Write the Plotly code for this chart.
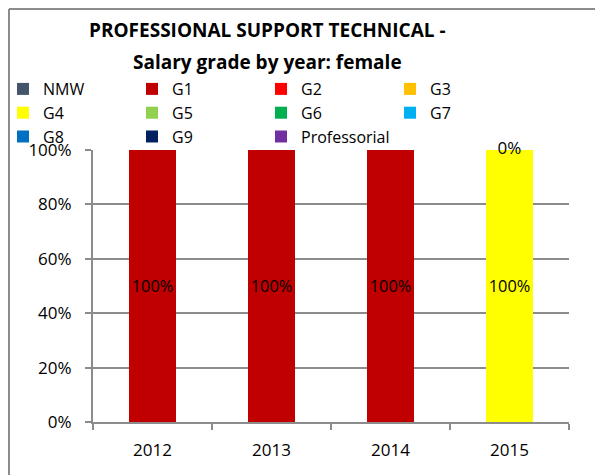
import plotly.graph_objects as go

years = ["2012", "2013", "2014", "2015"]
grades = ["NMW", "G1", "G2", "G3", "G4", "G5", "G6", "G7", "G8", "G9", "Professorial"]
values = {
    "NMW": [0, 0, 0, 0],
    "G1": [1, 1, 1, 0],
    "G2": [0, 0, 0, 0],
    "G3": [0, 0, 0, 0],
    "G4": [0, 0, 0, 1],
    "G5": [0, 0, 0, 0],
    "G6": [0, 0, 0, 0],
    "G7": [0, 0, 0, 0],
    "G8": [0, 0, 0, 0],
    "G9": [0, 0, 0, 0],
    "Professorial": [0, 0, 0, 0],
}
colors = ["#44546A", "#C00000", "#FF0000", "#FFC000", "#FFFF00", "#92D050",
          "#00B050", "#00B0F0", "#0070C0", "#002060", "#7030A0"]
# zero-valued label shown in the reference (series G5, year 2015)
zero_label_series = "G5"
zero_label_year = "2015"

FONT = "Open Sans"
W, H = 595, 475
L, R, T, B = 93, 26, 150, 53
pw, ph = W - L - R, H - T - B

def px_x(px):
    return (px - L) / pw

def px_y(py):
    return (H - B - py) / ph

fig = go.Figure()
for g, c in zip(grades, colors):
    vals = values[g]
    fig.add_trace(go.Bar(
        name=g, x=years, y=vals, marker=dict(color=c, line=dict(width=0)),
        text=[f"{v:.0%}" if v > 0 else "" for v in vals],
        textposition="inside", insidetextanchor="middle",
        textfont=dict(family=FONT, size=17, color="#000000"),
        textangle=0,
    ))

# zero label
idx = years.index(zero_label_year)
cum = sum(values[g][idx] for g in grades[:grades.index(zero_label_series) + 1])
fig.add_trace(go.Scatter(
    x=[zero_label_year], y=[cum], mode="text",
    text=[f"{values[zero_label_series][idx]:.0%}"],
    textposition="middle center", cliponaxis=False,
    textfont=dict(family=FONT, size=17, color="#000000"),
    showlegend=False, hoverinfo="skip",
))

fig.update_layout(
    width=W, height=H,
    margin=dict(l=L, r=R, t=T, b=B, autoexpand=False),
    paper_bgcolor="white", plot_bgcolor="white",
    barmode="stack", bargap=0.6,
    font=dict(family=FONT, size=17, color="#000000"),
    showlegend=True,
    legend=dict(
        orientation="h", traceorder="normal",
        x=px_x(3), xanchor="left", y=px_y(72), yanchor="top",
        entrywidth=84, entrywidthmode="pixels",
        font=dict(family=FONT, size=16, color="#000000"),
        bgcolor="rgba(0,0,0,0)", itemclick=False,
    ),
    xaxis=dict(
        type="category", showline=True, linecolor="#8c8c8c", linewidth=2,
        ticks="outside", tickson="boundaries", ticklen=6, tickcolor="#8c8c8c",
        tickwidth=2, showgrid=False, tickfont=dict(family=FONT, size=17),
        ticklabelstandoff=12,
    ),
    yaxis=dict(
        range=[0, 1], tickformat=".0%", dtick=0.2, tick0=0,
        showline=True, linecolor="#8c8c8c", linewidth=2,
        ticks="outside", ticklen=6, tickcolor="#8c8c8c", tickwidth=2,
        showgrid=True, gridcolor="#8c8c8c", gridwidth=2,
        zeroline=False, tickfont=dict(family=FONT, size=17),
        ticklabelstandoff=10,
    ),
    annotations=[
        dict(text="<b>PROFESSIONAL SUPPORT TECHNICAL -</b>", x=px_x(267), y=px_y(30),
             xref="paper", yref="paper", showarrow=False, xanchor="center", yanchor="middle",
             font=dict(family=FONT, size=19, color="#000000")),
        dict(text="<b>Salary grade by year: female</b>", x=px_x(267), y=px_y(62),
             xref="paper", yref="paper", showarrow=False, xanchor="center", yanchor="middle",
             font=dict(family=FONT, size=19, color="#000000")),
    ],
    shapes=[
        dict(type="line", xref="paper", yref="paper", x0=px_x(9), x1=px_x(600),
             y0=px_y(9), y1=px_y(9), line=dict(color="#8c8c8c", width=2)),
        dict(type="line", xref="paper", yref="paper", x0=px_x(9), x1=px_x(9),
             y0=px_y(480), y1=px_y(9), line=dict(color="#8c8c8c", width=2)),
    ],
)

fig.write_html("out.html", config={"displayModeBar": False},
               post_script="document.body.style.margin='0';")
